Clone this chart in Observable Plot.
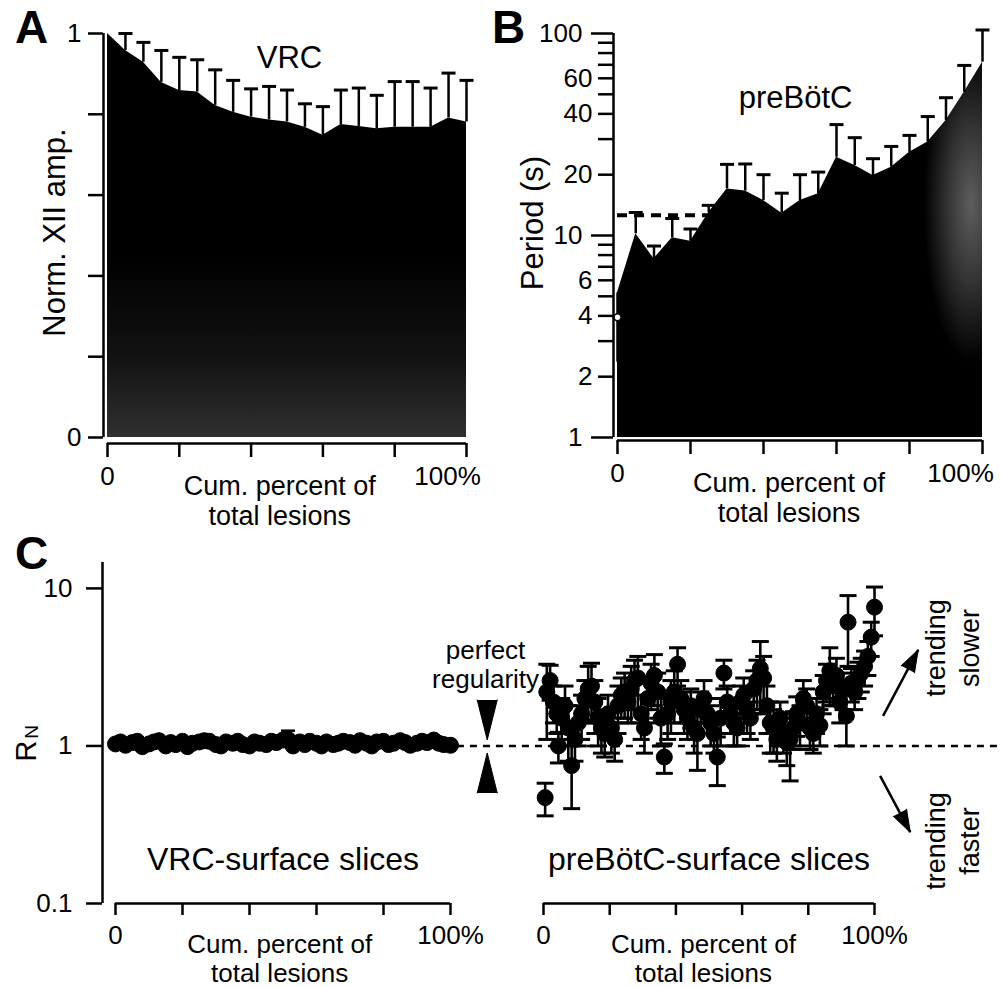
<!DOCTYPE html>
<html>
<head>
<meta charset="utf-8">
<script src="https://cdn.jsdelivr.net/npm/d3@7"></script>
<script src="https://cdn.jsdelivr.net/npm/@observablehq/plot@0.6"></script>
<style>
  html, body { margin: 0; padding: 0; background: #fff; }
  #fig { position: relative; width: 1001px; height: 987px; overflow: hidden; background: #fff;
         font-family: 'Liberation Sans', Arial, Helvetica, sans-serif; color: #000; }
  .letter { position: absolute; font: bold 46px 'Liberation Sans', Arial, sans-serif; line-height: 46px; }
</style>
</head>
<body>
<div id="fig">
  <div class="letter" style="left:15px;top:4px">A</div>
  <div class="letter" style="left:492px;top:4px">B</div>
  <div class="letter" style="left:15px;top:530px">C</div>
</div>
<script>
// ------------------------------------------------------------------ DATA
// Panel A – VRC: normalised XII amplitude vs cumulative percent of lesions
const pctA    = [0, 5, 10, 15, 20, 25, 30, 35, 40, 45, 50, 55, 60, 65, 70, 75, 80, 85, 90, 95, 100];
const ampA    = [1.0, 0.958, 0.929, 0.879, 0.859, 0.855, 0.822, 0.805, 0.793, 0.786, 0.781, 0.768, 0.748, 0.775, 0.770, 0.764, 0.768, 0.768, 0.768, 0.791, 0.781];
const ampErrA = [0, 0.042, 0.049, 0.079, 0.082, 0.080, 0.088, 0.079, 0.070, 0.083, 0.079, 0.058, 0.071, 0.085, 0.095, 0.083, 0.113, 0.113, 0.097, 0.111, 0.103];

// Panel B – preBötC: period (s) vs cumulative percent of lesions
const pctB      = [0, 5, 10, 15, 20, 25, 30, 35, 40, 45, 50, 55, 60, 65, 70, 75, 80, 85, 90, 95, 100];
const periodB   = [5.2, 10.2, 7.67, 9.74, 9.37, 13.0, 17.0, 16.6, 14.9, 12.9, 14.9, 16.1, 24.4, 22.2, 19.8, 21.8, 25.8, 29.0, 37.1, 51.2, 72.1];
const periodErrB= [0, 2.8, 1.2, 2.4, 1.4, 1.1, 5.5, 6.0, 5.1, 3.3, 5.1, 4.5, 11.0, 8.3, 4.2, 5.8, 5.5, 9.8, 11.0, 18.3, 32.0];
const controlPeriodB = {pct: 0, mean: 3.94, lo: 2.36, hi: 5.2};   // control (open circle)
const baselinePeriodB = 12.6;                                     // dashed reference
const baselineSpanB = [0, 25];

// Panel C – R_N, VRC-surface slices
const vrcPct = [0, 1.5, 3, 5, 6.5, 8, 10, 11.5, 13, 15, 16.5, 18, 20, 21.5, 23, 25, 26.5, 28, 30, 31.5,
                33, 35, 36.5, 38, 40, 41.5, 43, 45, 46.5, 48, 50, 51.5, 53, 55, 56.5, 58, 60, 61.5, 63, 65,
                66.5, 68, 70, 71.5, 73, 75, 76.5, 78, 80, 81.5, 83, 85, 86.5, 88, 90, 91.5, 93, 95, 96.5, 98, 100];
const vrcRN  = [1.03, 1.06, 1.01, 1.05, 1.07, 0.99, 1.03, 1.06, 1.08, 1.00, 1.05, 1.02, 1.07, 0.99, 1.04, 1.06, 1.08, 1.07, 1.02, 1.00,
                1.06, 1.04, 1.07, 1.02, 1.00, 1.06, 1.04, 1.02, 1.07, 1.05, 1.09, 1.10, 1.00, 1.06, 1.02, 1.07, 1.04, 1.00, 1.06, 1.02,
                1.04, 1.07, 1.05, 1.01, 1.08, 1.04, 1.00, 1.06, 1.07, 1.02, 1.04, 1.08, 1.05, 1.01, 1.04, 1.07, 1.05, 1.09, 1.04, 1.02, 1.01];
const vrcErr = [0.02, 0.02, 0.02, 0.02, 0.02, 0.02, 0.02, 0.02, 0.02, 0.02, 0.02, 0.02, 0.02, 0.02, 0.02, 0.02, 0.02, 0.02, 0.02, 0.02,
                0.02, 0.02, 0.02, 0.02, 0.02, 0.02, 0.02, 0.02, 0.02, 0.02, 0.02, 0.15, 0.02, 0.02, 0.02, 0.02, 0.02, 0.02, 0.02, 0.02,
                0.02, 0.02, 0.02, 0.02, 0.02, 0.02, 0.02, 0.02, 0.02, 0.02, 0.02, 0.02, 0.02, 0.02, 0.02, 0.02, 0.02, 0.02, 0.02, 0.02, 0.02];

// Panel C – R_N, preBötC-surface slices
const prePct = [0.5, 1, 2, 3, 4, 4.5, 5.5, 6.5, 7.5, 8.5, 9.5, 10.5, 11.5, 12.5, 13.5, 14.5, 15.5, 16.5, 17.5, 18.5,
                19.5, 20.5, 21.5, 22.5, 23.5, 24.5, 25.5, 26.5, 27.5, 28.5, 29.5, 30.5, 31.5, 32.5, 33.5, 34.5, 35.5, 36.5, 37.5, 38.5,
                39.5, 40.5, 41.5, 42.5, 43.5, 44.5, 45.5, 46.5, 47.5, 48.5, 49.5, 50.5, 51.5, 52.5, 53.5, 54.5, 55.5, 56.5, 57.5, 58.5,
                59.5, 60.5, 61.5, 62.5, 63.5, 64.5, 65.5, 66.5, 67.5, 68.5, 69.5, 70.5, 71.5, 72.5, 73.5, 74.5, 75.5, 76.5, 77.5, 78.5,
                79.5, 80.5, 81.5, 82.5, 83.5, 84.5, 85.5, 86.5, 87.5, 88.5, 89.5, 90.5, 91.5, 92, 93, 94, 95, 96, 97, 98, 99, 100];
const preRN  = [0.47, 2.2, 2.6, 1.9, 1.6, 1.0, 1.5, 1.8, 1.3, 0.75, 1.1, 1.4, 1.6, 2.0, 2.3, 2.4, 1.9, 1.5, 1.3, 1.2,
                1.6, 1.3, 1.1, 1.8, 2.1, 2.2, 1.9, 2.3, 2.6, 2.7, 1.6, 1.3, 2.0, 2.5, 2.8, 2.2, 1.5, 0.85, 1.6, 1.9,
                2.2, 3.3, 2.0, 1.7, 1.5, 1.8, 1.3, 1.2, 1.7, 2.0, 1.6, 1.4, 1.2, 0.85, 1.5, 2.9, 1.9, 1.6, 1.4, 1.3,
                1.9, 2.1, 1.7, 1.5, 2.3, 2.6, 3.1, 2.7, 1.8, 1.4, 1.3, 1.1, 1.5, 1.2, 1.05, 1.1, 1.3, 1.6, 1.4, 2.0,
                1.8, 1.3, 1.2, 1.6, 1.35, 2.2, 2.6, 3.0, 2.4, 2.8, 1.9, 2.3, 1.55, 6.1, 2.5, 2.2, 2.7, 2.9, 3.2, 3.7, 4.9, 7.6];
const preErr = [0.11, 1.1, 0.65, 0.5, 0.4, 0.22, 0.5, 0.6, 0.5, 0.35, 0.3, 0.4, 0.5, 0.6, 0.9, 0.95, 0.7, 0.5, 0.4, 0.35,
                0.5, 0.4, 0.3, 0.6, 0.6, 0.7, 0.5, 0.9, 0.9, 1.0, 0.5, 0.4, 0.6, 0.8, 1.0, 0.7, 0.5, 0.18, 0.5, 0.7,
                0.8, 0.9, 0.6, 0.5, 0.4, 0.5, 0.4, 0.5, 0.5, 0.6, 0.4, 0.4, 0.3, 0.29, 0.5, 0.6, 0.5, 0.4, 0.4, 0.3,
                0.5, 0.6, 0.5, 0.4, 0.7, 0.9, 1.5, 1.0, 0.6, 0.5, 0.4, 0.3, 0.4, 0.3, 0.3, 0.5, 0.35, 0.45, 0.4, 0.6,
                0.5, 0.35, 0.3, 0.4, 0.35, 0.6, 0.7, 1.2, 0.6, 0.8, 0.5, 0.6, 0.55, 2.9, 0.6, 0.5, 0.7, 0.7, 0.8, 0.9, 1.2, 2.6];

// Axis ticks and labels
const xTicks       = [0, 20, 40, 60, 80, 100];
const xTickLabels  = ["0", "", "", "", "", "100%"];
const aYTicks      = [0, 0.2, 0.4, 0.6, 0.8, 1];
const aYTickLabels = ["0", "", "", "", "", "1"];
const bYTicks      = [1, 2, 3, 4, 5, 6, 7, 8, 9, 10, 20, 30, 40, 50, 60, 70, 80, 90, 100];
const bYTickLabels = ["1", "2", "", "4", "", "6", "", "", "", "10", "20", "", "40", "", "60", "", "", "", "100"];
const cYTicks      = [0.1, 1, 10];
const cYTickLabels = ["0.1", "1", "10"];
const cYDomain     = [0.1, 14.6];

// Texts
const xTitle   = "Cum. percent of\ntotal lesions";
const titleA   = "VRC";
const titleB   = "preBötC";
const yTitleA  = "Norm. XII amp.";
const yTitleB  = "Period (s)";
const labelVRC = "VRC-surface slices";
const labelPre = "preBötC-surface slices";
const regText  = "perfect\nregularity";
const slowText = "trending\nslower";
const fastText = "trending\nfaster";

// Annotation anchors (data units of each panel)
const regTriangles = [{x: -17, y: 1.96, rotate: 180}, {x: -17, y: 0.503, rotate: 0}];
const trendArrows  = [{x1: 102.6, y1: 1.55, x2: 113.2, y2: 4.07, angle: 28},
                      {x1: 101.7, y1: 0.645, x2: 110.8, y2: 0.284, angle: 152}];
const trendLabels  = [{x: 123, y: 4.19, text: slowText}, {x: 123, y: 0.249, text: fastText}];

// ------------------------------------------------------------------ HELPERS
const FONT = "'Liberation Sans', Arial, Helvetica, sans-serif";
const SW = 2.5;
const capShape = {draw(c, l) { c.moveTo(-l / 2, 0); c.lineTo(l / 2, 0); }};
const labelMap = (ticks, labels) => new Map(ticks.map((t, i) => [t, labels[i]]));
const xLabelMap = labelMap(xTicks, xTickLabels);

function styleAt(left, top) {
  return {fontFamily: FONT, fontSize: "26px", background: "transparent", overflow: "visible",
          color: "#000", position: "absolute", left: left + "px", top: top + "px"};
}

function bottomAxis({shiftLast = 0, titleX = 48, tickSize = 14, pad = 9, titleDy = 30, titleSize = 27, titleLH = 1.12}) {
  const first = xTicks[0], last = xTicks[xTicks.length - 1];
  return [
    Plot.axisX({ticks: xTicks, tickSize, tickFormat: () => "", strokeWidth: SW, label: null}),
    Plot.text([xLabelMap.get(first)], {x: first, text: d => d, frameAnchor: "bottom", lineAnchor: "top",
                                       dy: tickSize + pad, fontSize: 26}),
    Plot.text([xLabelMap.get(last)], {x: last, text: d => d, frameAnchor: "bottom", lineAnchor: "top",
                                      dy: tickSize + pad, dx: shiftLast, fontSize: 26}),
    Plot.text([xTitle], {x: titleX, text: d => d, frameAnchor: "bottom", lineAnchor: "top",
                         dy: titleDy, fontSize: titleSize, lineHeight: titleLH})
  ];
}

// left tick labels drawn as text marks (keeps every label regardless of scale type)
function leftTickLabels(ticks, labels, offset) {
  const m = labelMap(ticks, labels);
  const shown = ticks.filter(t => m.get(t));
  return Plot.text(shown, {y: d => d, text: d => m.get(d), frameAnchor: "left", textAnchor: "end",
                           dx: -offset, fontSize: 26});
}

const fig = document.getElementById("fig");

// ------------------------------------------------------------------ PANEL A
const dataA = pctA.map((p, i) => ({pct: p, amp: ampA[i], hi: ampA[i] + ampErrA[i]}));
const barsA = dataA.filter(d => d.hi > d.amp);

const plotA = Plot.plot({
  width: 490, height: 530,
  marginLeft: 103, marginRight: 24, marginTop: 33, marginBottom: 87,
  style: styleAt(0, 0),
  x: {domain: [0, 100], insetLeft: 4},
  y: {domain: [0, 1], insetBottom: 6},
  marks: [
    Plot.areaY(dataA, {x: "pct", y: "amp", fill: "url(#gradA)"}),
    Plot.ruleX(barsA, {x: "pct", y1: "amp", y2: "hi", strokeWidth: SW}),
    Plot.vector(barsA, {x: "pct", y: "hi", shape: capShape, length: 14, anchor: "start", strokeWidth: 3, strokeLinecap: "butt"}),
    Plot.ruleX([0], {y1: 0, y2: 1, dx: -4, strokeWidth: SW}),
    Plot.axisY({ticks: aYTicks, tickFormat: () => "", tickSize: 15, strokeWidth: SW, label: null}),
    leftTickLabels(aYTicks, aYTickLabels, 22),
    Plot.ruleY([0], {x1: 0, x2: 100, dy: 6, strokeWidth: SW}),
    ...bottomAxis({shiftLast: -19, titleX: 48}),
    Plot.text([titleA], {x: 50.7, y: 0.938, text: d => d, fontSize: 31}),
    Plot.text([yTitleA], {frameAnchor: "left", textAnchor: "middle", text: d => d, rotate: -90, dx: -48, dy: -6, fontSize: 31})
  ]
});
{
  const defs = d3.select(plotA).insert("defs", ":first-child");
  const g = defs.append("linearGradient").attr("id", "gradA").attr("x1", 0).attr("y1", 0).attr("x2", 0).attr("y2", 1);
  [[0, "#000"], [0.55, "#000"], [0.8, "#121212"], [1, "#303030"]].forEach(([o, c]) => g.append("stop").attr("offset", o).attr("stop-color", c));
}
fig.appendChild(plotA);

// ------------------------------------------------------------------ PANEL B
const dataB = pctB.map((p, i) => ({pct: p, period: periodB[i], hi: periodB[i] + periodErrB[i]}));
const barsB = dataB.filter(d => d.hi > d.period);
const isDecade = t => Math.abs(Math.log10(t) - Math.round(Math.log10(t))) < 1e-9;
const bDecTicks = bYTicks.filter(isDecade);
const bMinTicks = bYTicks.filter(t => !isDecade(t));
const bDecLabels = bDecTicks.map(t => bYTickLabels[bYTicks.indexOf(t)]);
const bMinLabels = bMinTicks.map(t => bYTickLabels[bYTicks.indexOf(t)]);

const plotB = Plot.plot({
  width: 511, height: 530,
  marginLeft: 123, marginRight: 19, marginTop: 33, marginBottom: 90,
  style: styleAt(490, 0),
  x: {domain: [0, 100], insetLeft: 4},
  y: {type: "log", domain: [1, 100], insetBottom: 3},
  marks: [
    Plot.areaY(dataB, {x: "pct", y1: 1, y2: "period", fill: "url(#gradB)"}),
    Plot.ruleX(barsB, {x: "pct", y1: "period", y2: "hi", strokeWidth: SW}),
    Plot.vector(barsB, {x: "pct", y: "hi", shape: capShape, length: 14, anchor: "start", strokeWidth: 3, strokeLinecap: "butt"}),
    Plot.ruleY([baselinePeriodB], {x1: baselineSpanB[0], x2: baselineSpanB[1], strokeWidth: 4, strokeDasharray: "10,7"}),
    Plot.ruleX([controlPeriodB], {x: "pct", y1: "lo", y2: "hi", strokeWidth: SW}),
    Plot.dot([controlPeriodB], {x: "pct", y: "mean", r: 3.5, fill: "white", stroke: "black", strokeWidth: 1.5}),
    Plot.ruleX([0], {y1: 1, y2: 100, dx: -4, strokeWidth: SW}),
    Plot.axisY({ticks: bDecTicks, tickFormat: () => "", tickSize: 22, strokeWidth: SW, label: null}),
    Plot.axisY({ticks: bMinTicks, tickFormat: () => "", tickSize: 15, strokeWidth: SW, label: null}),
    leftTickLabels(bDecTicks, bDecLabels, 31),
    leftTickLabels(bMinTicks, bMinLabels, 21),
    Plot.ruleY([1], {x1: 0, x2: 100, dy: 3, strokeWidth: SW}),
    ...bottomAxis({shiftLast: -22, titleX: 47}),
    Plot.text([titleB], {x: 48.8, y: 47.7, text: d => d, fontSize: 31}),
    Plot.text([yTitleB], {frameAnchor: "left", textAnchor: "middle", text: d => d, rotate: -90, dx: -80, dy: -14, fontSize: 31})
  ]
});
{
  const defs = d3.select(plotB).insert("defs", ":first-child");
  const g = defs.append("radialGradient").attr("id", "gradB")
    .attr("cx", 0.97).attr("cy", 0.38).attr("r", 1)
    .attr("gradientTransform", "translate(0.97 0.38) scale(0.13 0.42) translate(-0.97 -0.38)");
  [[0, "#5e5e5e"], [0.5, "#333"], [1, "#000"]].forEach(([o, c]) => g.append("stop").attr("offset", o).attr("stop-color", c));
}
fig.appendChild(plotB);

// ------------------------------------------------------------------ PANEL C (left: VRC)
const dataVRC = vrcPct.map((p, i) => ({pct: p, rn: vrcRN[i], lo: vrcRN[i] - vrcErr[i], hi: vrcRN[i] + vrcErr[i]}));

const plotCL = Plot.plot({
  width: 470, height: 447,
  marginLeft: 102, marginRight: 20, marginTop: 22, marginBottom: 84,
  style: styleAt(0, 540),
  x: {domain: [0, 100], insetLeft: 13},
  y: {type: "log", domain: cYDomain},
  marks: [
    Plot.ruleX(dataVRC, {x: "pct", y1: "lo", y2: "hi", strokeWidth: 2}),
    Plot.vector(dataVRC, {x: "pct", y: "hi", shape: capShape, length: 14, anchor: "start", strokeWidth: 2.5, strokeLinecap: "butt"}),
    Plot.dot(dataVRC, {x: "pct", y: "rn", r: 8, fill: "black", stroke: "black", strokeWidth: 1}),
    Plot.ruleX([0], {y1: cYDomain[0], y2: cYDomain[1], dx: -13, strokeWidth: SW}),
    Plot.axisY({ticks: cYTicks, tickFormat: () => "", tickSize: 16, strokeWidth: SW, label: null}),
    leftTickLabels(cYTicks, cYTickLabels, 30),
    Plot.ruleY([cYDomain[0]], {x1: 0, x2: 100, strokeWidth: SW}),
    ...bottomAxis({shiftLast: 0, titleX: 49, tickSize: 12, pad: 10, titleDy: 29, titleSize: 26, titleLH: 1.12}),
    Plot.text([labelVRC], {x: 50, y: 0.19, text: d => d, fontSize: 32}),
    Plot.text(["R"], {frameAnchor: "left", textAnchor: "middle", y: 1, text: d => d, rotate: -90, dx: -76, dy: 5, fontSize: 29}),
    Plot.text(["N"], {frameAnchor: "left", textAnchor: "middle", y: 1, text: d => d, rotate: -90, dx: -71, dy: -14, fontSize: 19})
  ]
});
fig.appendChild(plotCL);

// ------------------------------------------------------------------ PANEL C (right: preBötC)
const dataPre = prePct.map((p, i) => ({pct: p, rn: preRN[i], lo: Math.max(0.11, preRN[i] - preErr[i]), hi: preRN[i] + preErr[i]}));

const plotCR = Plot.plot({
  width: 561, height: 447,
  marginLeft: 103, marginRight: 127, marginTop: 22, marginBottom: 84,
  style: styleAt(440, 540),
  x: {domain: [0, 100]},
  y: {type: "log", domain: cYDomain, axis: null},
  marks: [
    Plot.ruleY([1], {x1: -26, x2: 138, strokeWidth: 2.5, strokeDasharray: "7,6"}),
    Plot.ruleX(dataPre, {x: "pct", y1: "lo", y2: "hi", strokeWidth: 2.6}),
    Plot.vector(dataPre, {x: "pct", y: "hi", shape: capShape, length: 17, anchor: "start", strokeWidth: 3, strokeLinecap: "butt"}),
    Plot.vector(dataPre, {x: "pct", y: "lo", shape: capShape, length: 17, anchor: "start", strokeWidth: 3, strokeLinecap: "butt"}),
    Plot.dot(dataPre, {x: "pct", y: "rn", r: 8, fill: "black", stroke: "black", strokeWidth: 1}),
    Plot.ruleY([cYDomain[0]], {x1: 0, x2: 100, strokeWidth: SW}),
    ...bottomAxis({shiftLast: 0, titleX: 48.3, tickSize: 12, pad: 10, titleDy: 29, titleSize: 26, titleLH: 1.12}),
    Plot.text([labelPre], {x: 50, y: 0.19, text: d => d, fontSize: 32}),
    // perfect regularity marker
    Plot.text([regText], {x: -17.5, y: 3.29, text: d => d, fontSize: 26, lineHeight: 1.1}),
    Plot.vector(regTriangles, {x: "x", y: "y", rotate: "rotate", length: 40, r: 10, shape: "spike", anchor: "start",
                               fill: "black", stroke: "black", strokeWidth: 1}),
    // trend arrows
    Plot.link(trendArrows, {x1: "x1", y1: "y1", x2: "x2", y2: "y2", strokeWidth: 2.5}),
    Plot.vector(trendArrows, {x: "x2", y: "y2", rotate: "angle", length: 22, r: 7.5, shape: "spike", anchor: "end",
                              fill: "black", stroke: "black", strokeWidth: 1}),
    Plot.text(trendLabels, {x: "x", y: "y", text: "text", rotate: -90, fontSize: 27, lineHeight: 1.26})
  ]
});
fig.appendChild(plotCR);
</script>
</body>
</html>
